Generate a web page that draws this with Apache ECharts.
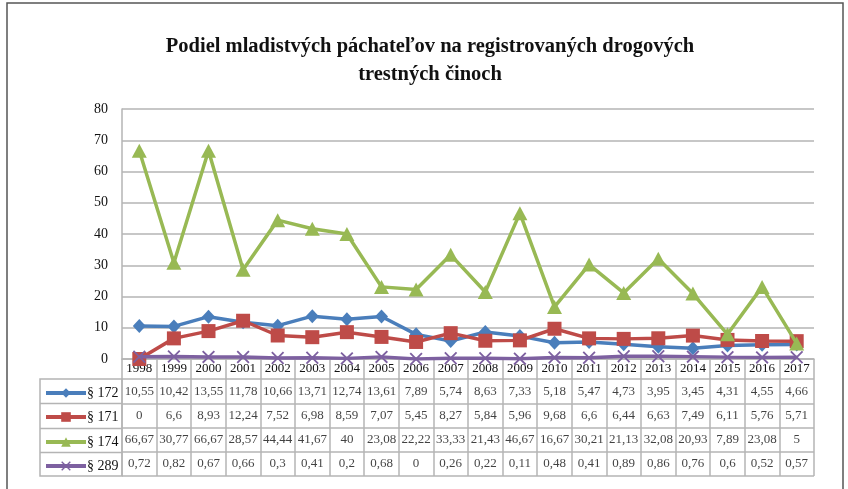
<!DOCTYPE html>
<html>
<head>
<meta charset="utf-8">
<script src="https://cdn.jsdelivr.net/npm/echarts@6/dist/echarts.min.js"></script>
<style>
  html, body { margin: 0; padding: 0; background: #fff; }
  #chart { width: 848px; height: 489px; }
</style>
</head>
<body>
<div id="chart"></div>
<script>
    // years and the four series (values as in the data table)
    const years = ['1998', '1999', '2000', '2001', '2002', '2003', '2004', '2005', '2006', '2007',
        '2008', '2009', '2010', '2011', '2012', '2013', '2014', '2015', '2016', '2017'];
    const seriesNames = ['§ 172', '§ 171', '§ 174', '§ 289'];
    const s172 = [10.55, 10.42, 13.55, 11.78, 10.66, 13.71, 12.74, 13.61, 7.89, 5.74, 8.63, 7.33, 5.18, 5.47, 4.73, 3.95, 3.45, 4.31, 4.55, 4.66];
    const s171 = [0, 6.6, 8.93, 12.24, 7.52, 6.98, 8.59, 7.07, 5.45, 8.27, 5.84, 5.96, 9.68, 6.6, 6.44, 6.63, 7.49, 6.11, 5.76, 5.71];
    const s174 = [66.67, 30.77, 66.67, 28.57, 44.44, 41.67, 40, 23.08, 22.22, 33.33, 21.43, 46.67, 16.67, 30.21, 21.13, 32.08, 20.93, 7.89, 23.08, 5];
    const s289 = [0.72, 0.82, 0.67, 0.66, 0.3, 0.41, 0.2, 0.68, 0, 0.26, 0.22, 0.11, 0.48, 0.41, 0.89, 0.86, 0.76, 0.6, 0.52, 0.57];
    const yTicks = [0, 10, 20, 30, 40, 50, 60, 70, 80];

    const allValues = [s172, s171, s174, s289];
    const colors = ['#4A7EBB', '#BE4B48', '#98B954', '#7D60A0'];
    const symbols = ['diamond', 'rect', 'triangle',
        'path://M0,1L1,0L5,4L9,0L10,1L6,5L10,9L9,10L5,6L1,10L0,9L4,5Z'];
    const symbolSizes = [[13, 14], 14, [15, 14], 13];

    const serif = '"Liberation Serif", "DejaVu Serif", serif';
    const lineGrey = '#b4b4b4';

    // plot + table geometry
    const plotLeft = 122, plotRight = 814, plotTop = 109, plotBottom = 359;
    const tableTop = 379, tableBottom = 476, legendLeft = 40;
    const rowH = (tableBottom - tableTop) / 4;

    const fmt = v => String(v).replace('.', ',');

    // cells of the data table
    const cells = [];
    allValues.forEach((vals, r) => {
        vals.forEach((v, c) => cells.push([c, r, v]));
    });

    const lineSeries = allValues.map((vals, i) => ({
        name: seriesNames[i],
        type: 'line',
        xAxisIndex: 0,
        yAxisIndex: 0,
        data: vals,
        symbol: symbols[i],
        symbolSize: symbolSizes[i],
        showAllSymbol: true,
        lineStyle: { color: colors[i], width: 3.5 },
        itemStyle: { color: colors[i] },
        z: 3 + i,
        animation: false
    }));

    // one legend per table row so each sits in its own cell
    const legends = seriesNames.map((name, r) => ({
        data: [name],
        left: 44,
        top: Math.round(tableTop + r * rowH + (rowH - 10) / 2),
        padding: 0,
        itemWidth: 40,
        itemHeight: 12,
        itemGap: 0,
        selectedMode: false,
        lineStyle: { width: 4 },
        textStyle: { fontFamily: serif, fontSize: 14, color: '#111', padding: [0, 0, 0, -4] }
    }));

    // outer frame + legend column frame
    const graphics = [
        { type: 'rect', shape: { x: 7, y: 3, width: 836, height: 520 },
          style: { fill: 'none', stroke: '#555', lineWidth: 1.5 }, silent: true },
        { type: 'rect', shape: { x: legendLeft, y: tableTop, width: plotLeft - legendLeft, height: tableBottom - tableTop },
          style: { fill: 'none', stroke: lineGrey, lineWidth: 1.5 }, silent: true }
    ];
    for (let r = 1; r < 4; r++) {
        const y = Math.round(tableTop + r * rowH) + 0.5;
        graphics.push({ type: 'line', shape: { x1: legendLeft, y1: y, x2: plotLeft, y2: y },
            style: { stroke: lineGrey, lineWidth: 1.5 }, silent: true });
    }

    const chart = echarts.init(document.getElementById('chart'));
    chart.setOption({
        animation: false,
        title: {
            text: 'Podiel mladistvých páchateľov na registrovaných drogových\ntrestných činoch',
            left: 425,
            top: 28,
            textAlign: 'center',
            textStyle: { fontFamily: serif, fontWeight: 'bold', fontSize: 20.5, color: '#111', lineHeight: 28 }
        },
        legend: legends,
        grid: [
            { left: plotLeft, right: 848 - plotRight, top: plotTop, height: plotBottom - plotTop },
            { left: plotLeft, right: 848 - plotRight, top: tableTop, height: tableBottom - tableTop }
        ],
        xAxis: [
            {
                type: 'category', gridIndex: 0, data: years, boundaryGap: true,
                axisLine: { show: true, lineStyle: { color: lineGrey, width: 1.5 } },
                axisTick: { show: true, interval: 0, length: tableTop - plotBottom,
                    lineStyle: { color: lineGrey, width: 1.5 } },
                axisLabel: { interval: 0, margin: 3, fontFamily: serif, fontSize: 13, color: '#111' },
                splitLine: { show: false }
            },
            {
                type: 'category', gridIndex: 1, data: years, boundaryGap: true,
                axisLine: { show: false }, axisTick: { show: false }, axisLabel: { show: false },
                splitLine: { show: true, interval: 0, lineStyle: { color: lineGrey, width: 1.5 } }
            }
        ],
        yAxis: [
            {
                type: 'value', gridIndex: 0, min: 0, max: 80, interval: 10,
                axisLine: { show: true, lineStyle: { color: lineGrey, width: 1.5 } },
                axisTick: { show: false },
                axisLabel: { margin: 14, fontFamily: serif, fontSize: 14, color: '#111',
                    formatter: v => yTicks.includes(v) ? String(v) : '' },
                splitLine: { show: true, lineStyle: { color: lineGrey, width: 1.5 } }
            },
            {
                type: 'category', gridIndex: 1, data: seriesNames, inverse: true, boundaryGap: true,
                axisLine: { show: false }, axisTick: { show: false }, axisLabel: { show: false },
                splitLine: { show: true, interval: 0, lineStyle: { color: lineGrey, width: 1.5 } }
            }
        ],
        series: lineSeries.concat([{
            name: 'table',
            type: 'scatter',
            xAxisIndex: 1,
            yAxisIndex: 1,
            data: cells,
            symbolSize: 0,
            silent: true,
            label: {
                show: true,
                position: 'inside',
                formatter: p => fmt(p.value[2]),
                fontFamily: serif,
                fontSize: 13,
                color: '#111'
            }
        }]),
        graphic: graphics
    });
</script>
</body>
</html>
